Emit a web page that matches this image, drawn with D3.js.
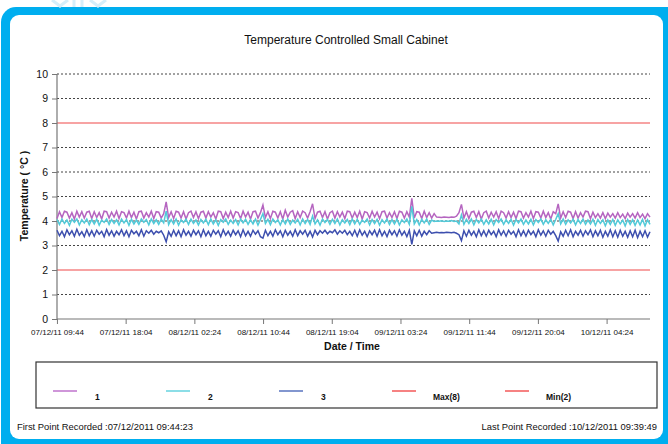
<!DOCTYPE html>
<html>
<head>
<meta charset="utf-8">
<script src="https://cdn.jsdelivr.net/npm/d3@7"></script>
<style>
  body { margin: 0; background: #fff; }
  svg { display: block; }
  text { font-family: "Liberation Sans", Arial, sans-serif; fill: #111; }
</style>
</head>
<body>
<svg></svg>
<script>
// logger readings, one value per sample, evenly spaced between first and last point
let firstPoint = "07/12/2011 09:44:23";
let lastPoint = "10/12/2011 09:39:49";

let probe1 = [
  4.10, 4.38, 4.14, 4.40, 4.36, 4.12, 4.34, 4.08, 4.40, 4.16, 4.38, 4.12,
  4.36, 4.40, 4.10, 4.38, 4.14, 4.34, 4.08, 4.40, 4.38, 4.12, 4.36, 4.16,
  4.40, 4.10, 4.38, 4.34, 4.12, 4.40, 4.14, 4.36, 4.08, 4.38, 4.40, 4.12,
  4.34, 4.16, 4.40, 4.10, 4.38, 4.36, 4.12, 4.30, 4.78, 4.14, 4.38, 4.10,
  4.40, 4.36, 4.12, 4.38, 4.08, 4.34, 4.40, 4.14, 4.38, 4.10, 4.36, 4.40,
  4.12, 4.38, 4.16, 4.34, 4.08, 4.40, 4.38, 4.10, 4.36, 4.14, 4.40, 4.12,
  4.38, 4.34, 4.10, 4.40, 4.16, 4.36, 4.08, 4.38, 4.40, 4.12, 4.34, 4.65,
  4.14, 4.38, 4.10, 4.40, 4.36, 4.12, 4.38, 4.08, 4.44, 4.16, 4.36, 4.42,
  4.10, 4.38, 4.14, 4.40, 4.34, 4.12, 4.38, 4.70, 4.10, 4.36, 4.40, 4.14,
  4.38, 4.08, 4.34, 4.40, 4.12, 4.38, 4.16, 4.36, 4.10, 4.40, 4.38, 4.12,
  4.36, 4.14, 4.40, 4.08, 4.38, 4.34, 4.12, 4.40, 4.16, 4.36, 4.10, 4.38,
  4.40, 4.12, 4.34, 4.14, 4.38, 4.10, 4.40, 4.36, 4.12, 4.38, 4.16, 4.92,
  4.12, 4.38, 4.36, 4.10, 4.40, 4.14, 4.34, 4.12, 4.30, 4.16, 4.15, 4.14,
  4.16, 4.15, 4.14, 4.16, 4.15, 4.20, 4.34, 4.68, 4.12, 4.38, 4.10, 4.36,
  4.40, 4.14, 4.38, 4.08, 4.34, 4.40, 4.12, 4.36, 4.16, 4.38, 4.10, 4.40,
  4.34, 4.12, 4.38, 4.14, 4.36, 4.10, 4.40, 4.38, 4.12, 4.34, 4.16, 4.40,
  4.10, 4.38, 4.36, 4.12, 4.40, 4.14, 4.34, 4.08, 4.38, 4.30, 4.70, 4.12,
  4.38, 4.14, 4.40, 4.36, 4.10, 4.38, 4.12, 4.34, 4.16, 4.40, 4.38, 4.10,
  4.36, 4.14, 4.30, 4.12, 4.34, 4.10, 4.32, 4.16, 4.30, 4.12, 4.34, 4.14,
  4.28, 4.10, 4.32, 4.16, 4.30, 4.12, 4.34, 4.14, 4.28, 4.10, 4.30, 4.16
];
let probe2 = [
  4.06, 3.86, 4.08, 3.90, 4.04, 3.82, 4.07, 3.95, 4.08, 3.84, 4.05, 3.92,
  4.08, 3.85, 4.06, 3.88, 4.07, 3.83, 4.04, 3.94, 4.08, 3.86, 4.06, 3.90,
  4.05, 3.84, 4.08, 3.92, 4.06, 3.82, 4.07, 3.88, 4.04, 3.86, 4.08, 3.95,
  4.06, 3.84, 4.08, 3.90, 4.05, 3.86, 4.07, 3.92, 4.40, 3.85, 4.06, 3.88,
  4.08, 3.83, 4.05, 3.94, 4.07, 3.86, 4.08, 3.90, 4.04, 3.84, 4.06, 3.92,
  4.07, 3.85, 4.08, 3.88, 4.05, 3.82, 4.06, 3.95, 4.08, 3.86, 4.04, 3.90,
  4.06, 3.84, 4.08, 3.92, 4.07, 3.86, 4.05, 3.88, 4.08, 3.83, 4.06, 4.30,
  3.90, 4.07, 3.85, 4.08, 3.94, 4.05, 3.84, 4.06, 3.88, 4.08, 3.86, 4.04,
  3.92, 4.07, 3.84, 4.08, 3.90, 4.06, 3.86, 4.20, 3.88, 4.05, 3.83, 4.08,
  3.94, 4.06, 3.86, 4.07, 3.90, 4.08, 3.84, 4.05, 3.92, 4.06, 3.85, 4.08,
  3.88, 4.07, 3.86, 4.04, 3.94, 4.08, 3.84, 4.06, 3.90, 4.07, 3.83, 4.05,
  3.92, 4.08, 3.86, 4.06, 3.88, 4.07, 3.84, 4.05, 3.94, 4.08, 3.86, 4.60,
  3.88, 4.06, 3.84, 4.07, 3.92, 4.08, 3.86, 4.04, 3.98, 4.00, 3.99, 4.01,
  3.98, 4.00, 3.99, 4.02, 3.98, 4.00, 3.88, 4.25, 3.86, 4.07, 3.90, 4.08,
  3.84, 4.06, 3.92, 4.08, 3.86, 4.05, 3.88, 4.07, 3.84, 4.06, 3.94, 4.08,
  3.86, 4.05, 3.90, 4.07, 3.83, 4.06, 3.92, 4.08, 3.86, 4.04, 3.88, 4.07,
  3.84, 4.06, 3.94, 4.08, 3.86, 4.05, 3.90, 4.07, 3.84, 4.06, 4.30, 3.88,
  4.08, 3.86, 4.05, 3.92, 4.07, 3.84, 4.06, 3.90, 4.08, 3.86, 4.04, 3.88,
  4.07, 3.82, 4.06, 3.90, 4.05, 3.80, 4.04, 3.86, 4.06, 3.82, 4.05, 3.88,
  4.04, 3.80, 4.06, 3.86, 4.05, 3.82, 4.04, 3.84, 4.06, 3.80, 4.05, 3.86
];
let probe3 = [
  3.62, 3.40, 3.58, 3.36, 3.64, 3.44, 3.60, 3.38, 3.66, 3.42, 3.56, 3.36,
  3.64, 3.40, 3.60, 3.38, 3.62, 3.46, 3.58, 3.36, 3.65, 3.42, 3.60, 3.38,
  3.58, 3.44, 3.64, 3.40, 3.60, 3.36, 3.62, 3.48, 3.58, 3.40, 3.64, 3.38,
  3.60, 3.50, 3.62, 3.46, 3.58, 3.52, 3.60, 3.42, 3.15, 3.56, 3.38, 3.62,
  3.40, 3.60, 3.36, 3.64, 3.42, 3.58, 3.38, 3.62, 3.44, 3.60, 3.36, 3.64,
  3.40, 3.58, 3.38, 3.62, 3.46, 3.60, 3.36, 3.64, 3.42, 3.58, 3.38, 3.62,
  3.44, 3.60, 3.36, 3.64, 3.40, 3.58, 3.38, 3.62, 3.46, 3.60, 3.36, 3.30,
  3.62, 3.40, 3.58, 3.38, 3.64, 3.44, 3.60, 3.36, 3.62, 3.42, 3.58, 3.38,
  3.64, 3.40, 3.60, 3.46, 3.62, 3.38, 3.58, 3.35, 3.62, 3.44, 3.60, 3.50,
  3.62, 3.48, 3.58, 3.52, 3.64, 3.46, 3.60, 3.50, 3.62, 3.44, 3.58, 3.40,
  3.62, 3.38, 3.64, 3.42, 3.58, 3.36, 3.60, 3.44, 3.62, 3.38, 3.64, 3.40,
  3.58, 3.36, 3.62, 3.44, 3.60, 3.38, 3.64, 3.42, 3.58, 3.36, 3.62, 3.05,
  3.60, 3.40, 3.62, 3.38, 3.58, 3.44, 3.60, 3.50, 3.52, 3.54, 3.52, 3.53,
  3.52, 3.54, 3.53, 3.52, 3.54, 3.50, 3.44, 3.20, 3.60, 3.38, 3.62, 3.42,
  3.58, 3.36, 3.64, 3.40, 3.60, 3.38, 3.62, 3.44, 3.58, 3.36, 3.64, 3.42,
  3.60, 3.38, 3.62, 3.46, 3.58, 3.36, 3.64, 3.40, 3.60, 3.38, 3.62, 3.44,
  3.58, 3.36, 3.64, 3.42, 3.60, 3.38, 3.62, 3.46, 3.58, 3.40, 3.18, 3.56,
  3.38, 3.62, 3.40, 3.64, 3.36, 3.58, 3.42, 3.62, 3.38, 3.60, 3.44, 3.64,
  3.36, 3.60, 3.40, 3.62, 3.34, 3.58, 3.38, 3.64, 3.36, 3.60, 3.34, 3.62,
  3.38, 3.58, 3.34, 3.60, 3.36, 3.62, 3.32, 3.58, 3.36, 3.60, 3.34, 3.56
];

let limitMax = 8;
let limitMin = 2;
let yTicks = [0, 1, 2, 3, 4, 5, 6, 7, 8, 9, 10];
let xTickLabels = [
  "07/12/11 09:44", "07/12/11 18:04", "08/12/11 02:24", "08/12/11 10:44",
  "08/12/11 19:04", "09/12/11 03:24", "09/12/11 11:44", "09/12/11 20:04",
  "10/12/11 04:24"
];
let legendNames = ["1", "2", "3", "Max(8)", "Min(2)"];

let width = 668;
let height = 444;
let svg = d3.select("svg").attr("width", width).attr("height", height);

// blue rounded frame
svg.append("rect").attr("x", 1).attr("y", 7).attr("width", 680).attr("height", 460)
  .attr("rx", 15).attr("fill", "#00aeef");
svg.append("rect").attr("x", 10).attr("y", 15).attr("width", 653).attr("height", 424)
  .attr("rx", 9).attr("fill", "#fff");

// faint logo peeking above the frame
let logo = svg.append("g").attr("stroke", "#d6eef9").attr("stroke-width", 3).attr("fill", "none");
logo.append("path").attr("d", "M52,0 L60,6 L68,0 M60,6 L60,7");
logo.append("path").attr("d", "M74,0 L74,7 M82,0 L82,7");
logo.append("path").attr("d", "M90,0 L98,6 L106,0 M98,6 L98,7");

let parseFull = d3.timeParse("%d/%m/%Y %H:%M:%S");
let parseTick = d3.timeParse("%d/%m/%y %H:%M");
let t0 = parseFull(firstPoint);
let t1 = parseFull(lastPoint);
let n = probe1.length;
let times = probe1.map((d, i) => new Date(+t0 + (t1 - t0) * i / (n - 1)));

let marginLeft = 57;
let plotRight = 650;
let plotTop = 74;
let plotBottom = 319;

let scaleX = d3.scaleTime().domain([t0, t1]).range([marginLeft, plotRight]);
let scaleY = d3.scaleLinear().domain([0, 10]).range([plotBottom, plotTop]);

// title
svg.append("text").attr("x", 346).attr("y", 44).attr("text-anchor", "middle")
  .style("font-size", "12px").text("Temperature Controlled Small Cabinet");

// grid lines (dotted), skipping the limit values
svg.append("g").selectAll("line")
  .data(yTicks.filter((d) => d !== 0 && d !== limitMax && d !== limitMin))
  .enter().append("line")
  .attr("x1", marginLeft).attr("x2", plotRight)
  .attr("y1", (d) => scaleY(d)).attr("y2", (d) => scaleY(d))
  .attr("stroke", "#444").attr("stroke-width", 1).attr("stroke-dasharray", "2,2");

// limit lines
svg.append("g").selectAll("line")
  .data([limitMax, limitMin])
  .enter().append("line")
  .attr("x1", marginLeft).attr("x2", plotRight)
  .attr("y1", (d) => scaleY(d)).attr("y2", (d) => scaleY(d))
  .attr("stroke", "#f04848").attr("stroke-width", 1.2);

// axes
let axisY = d3.axisLeft(scaleY).tickValues(yTicks).tickSize(5).tickFormat(d3.format("d"));
let gy = svg.append("g").attr("transform", `translate(${marginLeft},0)`).call(axisY);
gy.selectAll("text").style("font-size", "10.5px").attr("dx", "-1");

let axisX = d3.axisBottom(scaleX).tickValues(xTickLabels.map((d) => parseTick(d)))
  .tickSize(5).tickFormat((d, i) => xTickLabels[i]);
let gx = svg.append("g").attr("transform", `translate(0,${plotBottom})`).call(axisX);
gx.selectAll("text").style("font-size", "8px").attr("dy", "0.95em");

svg.selectAll(".domain").attr("stroke", "#777").attr("stroke-width", 1.2);
svg.selectAll(".tick line").attr("stroke", "#777");
gx.select(".domain").attr("d", `M${marginLeft},0H${plotRight}`);
gy.select(".domain").attr("d", `M0,${plotBottom}V${plotTop}`);

// axis titles
svg.append("text").attr("x", 352).attr("y", 350).attr("text-anchor", "middle")
  .style("font-size", "10.5px").style("font-weight", "bold").text("Date / Time");
svg.append("text").attr("transform", "translate(28,196) rotate(-90)").attr("text-anchor", "middle")
  .style("font-size", "10.5px").style("font-weight", "bold").text("Temperature ( °C )");

// series lines
let seriesList = [
  { values: probe1, color: "#b565c0" },
  { values: probe2, color: "#52cad9" },
  { values: probe3, color: "#3d4fae" }
];
let line = d3.line()
  .x((d, i) => scaleX(times[i]))
  .y((d) => scaleY(d));
svg.append("g").selectAll("path")
  .data(seriesList)
  .enter().append("path")
  .attr("d", (d) => line(d.values))
  .attr("fill", "none")
  .attr("stroke", (d) => d.color)
  .attr("stroke-width", 1.5);

// legend
svg.append("rect").attr("x", 36).attr("y", 362).attr("width", 621).attr("height", 46)
  .attr("fill", "none").attr("stroke", "#333").attr("stroke-width", 1.2);
let legendColors = ["#b050c0", "#40c8d8", "#3050b0", "#f03030", "#f03030"];
let legend = svg.append("g").selectAll("g")
  .data(legendNames)
  .enter().append("g")
  .attr("transform", (d, i) => `translate(${53 + i * 113},391)`);
legend.append("line").attr("x1", 0).attr("x2", 24).attr("y1", 0).attr("y2", 0)
  .attr("stroke", (d, i) => legendColors[i]).attr("stroke-width", 1.2);
legend.append("text").attr("x", (d, i) => (i < 3 ? 42 : 41)).attr("y", 9)
  .style("font-size", "8.5px").style("font-weight", "bold").text((d) => d);

// footer
svg.append("text").attr("x", 17).attr("y", 430)
  .style("font-size", "9.4px").text("First Point Recorded :" + firstPoint);
svg.append("text").attr("x", 657).attr("y", 430).attr("text-anchor", "end")
  .style("font-size", "9.4px").text("Last Point Recorded :" + lastPoint);
</script>
</body>
</html>
